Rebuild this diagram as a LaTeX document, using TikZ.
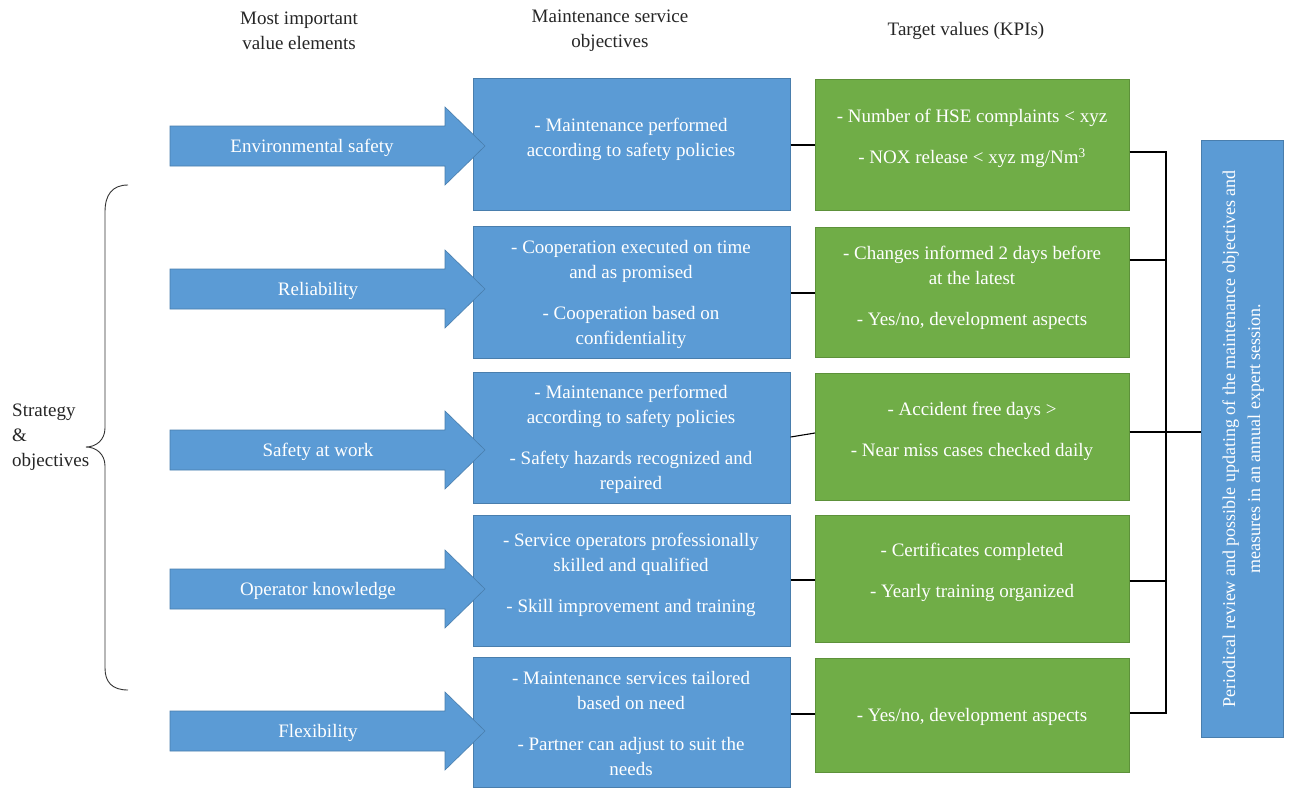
\documentclass[tikz,border=0pt]{standalone}
\usepackage{fontspec}
\setmainfont{Liberation Serif}
\usetikzlibrary{calc}
\definecolor{boxblue}{RGB}{91,155,213}
\definecolor{boxblueline}{RGB}{65,113,156}
\definecolor{boxgreen}{RGB}{112,173,71}
\definecolor{boxgreenline}{RGB}{80,126,50}
\newcommand\valuearrow[1]{%
  \fill[arrowfill] (170,#1-20) -- (445,#1-20) -- (445,#1-39) -- (485,#1) -- (445,#1+39) -- (445,#1+20) -- (170,#1+20) -- cycle;}
\begin{document}
\begin{tikzpicture}[x=1pt,y=-1pt,
  txt/.style={font=\fontsize{19}{25}\selectfont, align=center, inner sep=0pt},
  wtxt/.style={txt, text=white, yshift=-2pt},
  header/.style={txt, text=black!85},
  bluebox/.style={draw=boxblueline!70!boxblue, line width=0.6pt, fill=boxblue, minimum width=317pt, inner sep=0pt, anchor=north west},
  greenbox/.style={draw=boxgreenline!60!boxgreen, line width=0.6pt, fill=boxgreen, minimum width=314pt, inner sep=0pt, anchor=north west},
  arrowfill/.style={fill=boxblue, draw=boxblueline!70!boxblue, line width=0.6pt},
  conn/.style={draw=black, line width=1.1pt},
  bracestyle/.style={draw=black!80, line width=0.9pt}]
\useasboundingbox (0,0) rectangle (1289,789);
\fill[white] (0,0) rectangle (1289,789);

% headers
\node[header] (h1) at (299,31) {Most important\\value elements};
\node[header] (h2) at (610,31) {Maintenance service\\objectives};
\node[header] (h3) at (966,31) {Target values (KPIs)};

% blue objective boxes
\node[bluebox, minimum height=132pt] (b1) at (473,78) {};
\node[bluebox, minimum height=132pt] (b2) at (473,226) {};
\node[bluebox, minimum height=131pt] (b3) at (473,372) {};
\node[bluebox, minimum height=131pt] (b4) at (473,515) {};
\node[bluebox, minimum height=130pt] (b5) at (473,657) {};

% green KPI boxes
\node[greenbox, minimum height=131pt] (g1) at (815,79) {};
\node[greenbox, minimum height=130pt] (g2) at (815,227) {};
\node[greenbox, minimum height=127pt] (g3) at (815,373) {};
\node[greenbox, minimum height=127pt] (g4) at (815,515) {};
\node[greenbox, minimum height=114pt] (g5) at (815,658) {};

% right box
\node[bluebox, minimum width=82pt, minimum height=597pt] (r) at (1201,140) {};

% arrows
\valuearrow{146}
\valuearrow{289}
\valuearrow{450}
\valuearrow{589}
\valuearrow{731}
\node[wtxt] (a1) at (312,146) {Environmental safety};
\node[wtxt] (a2) at (318,289) {Reliability};
\node[wtxt] (a3) at (318,450) {Safety at work};
\node[wtxt] (a4) at (318,589) {Operator knowledge};
\node[wtxt] (a5) at (318,731) {Flexibility};

% blue box texts
\node[wtxt] (b1t) at (631,137.5) {- Maintenance performed\\according to safety policies};
\node[wtxt] (b2t) at (631,292) {- Cooperation executed on time\\and as promised\\[16pt]- Cooperation based on\\confidentiality};
\node[wtxt] (b3t) at (631,437.5) {- Maintenance performed\\according to safety policies\\[16pt]- Safety hazards recognized and\\repaired};
\node[wtxt] (b4t) at (631,573) {- Service operators professionally\\skilled and qualified\\[16pt]- Skill improvement and training};
\node[wtxt] (b5t) at (631,721.5) {- Maintenance services tailored\\based on need\\[16pt]- Partner can adjust to suit the\\needs};

% green box texts
\node[wtxt] (g1t) at (972,136.5) {- Number of HSE complaints < xyz\\[16pt]- NOX release < xyz mg/Nm\textsuperscript{3}};
\node[wtxt] (g2t) at (972,286) {- Changes informed 2 days before\\at the latest\\[16pt]- Yes/no, development aspects};
\node[wtxt] (g3t) at (972,429.5) {- Accident free days >\\[16pt]- Near miss cases checked daily};
\node[wtxt] (g4t) at (972,570.5) {- Certificates completed\\[16pt]- Yearly training organized};
\node[wtxt] (g5t) at (972,715) {- Yes/no, development aspects};

% right box text
\node[txt, text=white, rotate=90, font=\fontsize{18}{25}\selectfont] (rt) at ([xshift=1pt]r.center) {Periodical review and possible updating of the maintenance objectives and\\measures in an annual expert session.};

% connectors blue -> green
\draw[conn] (b1.east |- 0,145) -- (g1.west |- 0,145);
\draw[conn] (b2.east |- 0,293) -- (g2.west |- 0,293);
\draw[conn] (b3.east |- 0,437) -- (g3.west |- 0,433);
\draw[conn] (b4.east |- 0,580) -- (g4.west |- 0,580);
\draw[conn] (b5.east |- 0,714) -- (g5.west |- 0,714);

% connectors green -> bus -> right box
\coordinate (bustop) at (1166,152);
\coordinate (busbot) at (1166,713);
\draw[conn] (g1.east |- bustop) -- (bustop) -- (busbot) -- (g5.east |- busbot);
\draw[conn] (g2.east |- 0,260) -- (bustop |- 0,260);
\draw[conn] (g3.east |- 0,432) -- (r.west |- 0,432);
\draw[conn] (g4.east |- 0,581) -- (bustop |- 0,581);

% brace and strategy label
\draw[bracestyle] (128,185) .. controls (112,185) and (105,195) .. (105,212)
  -- (105,428) .. controls (105,440) and (96,447) .. (86,447)
  .. controls (96,447) and (105,454) .. (105,466)
  -- (105,668) .. controls (105,682) and (112,690) .. (128,690);
\node[txt, align=left, anchor=west, text=black!85] (s) at (12,437) {Strategy\\\&\\objectives};
\end{tikzpicture}
\end{document}
